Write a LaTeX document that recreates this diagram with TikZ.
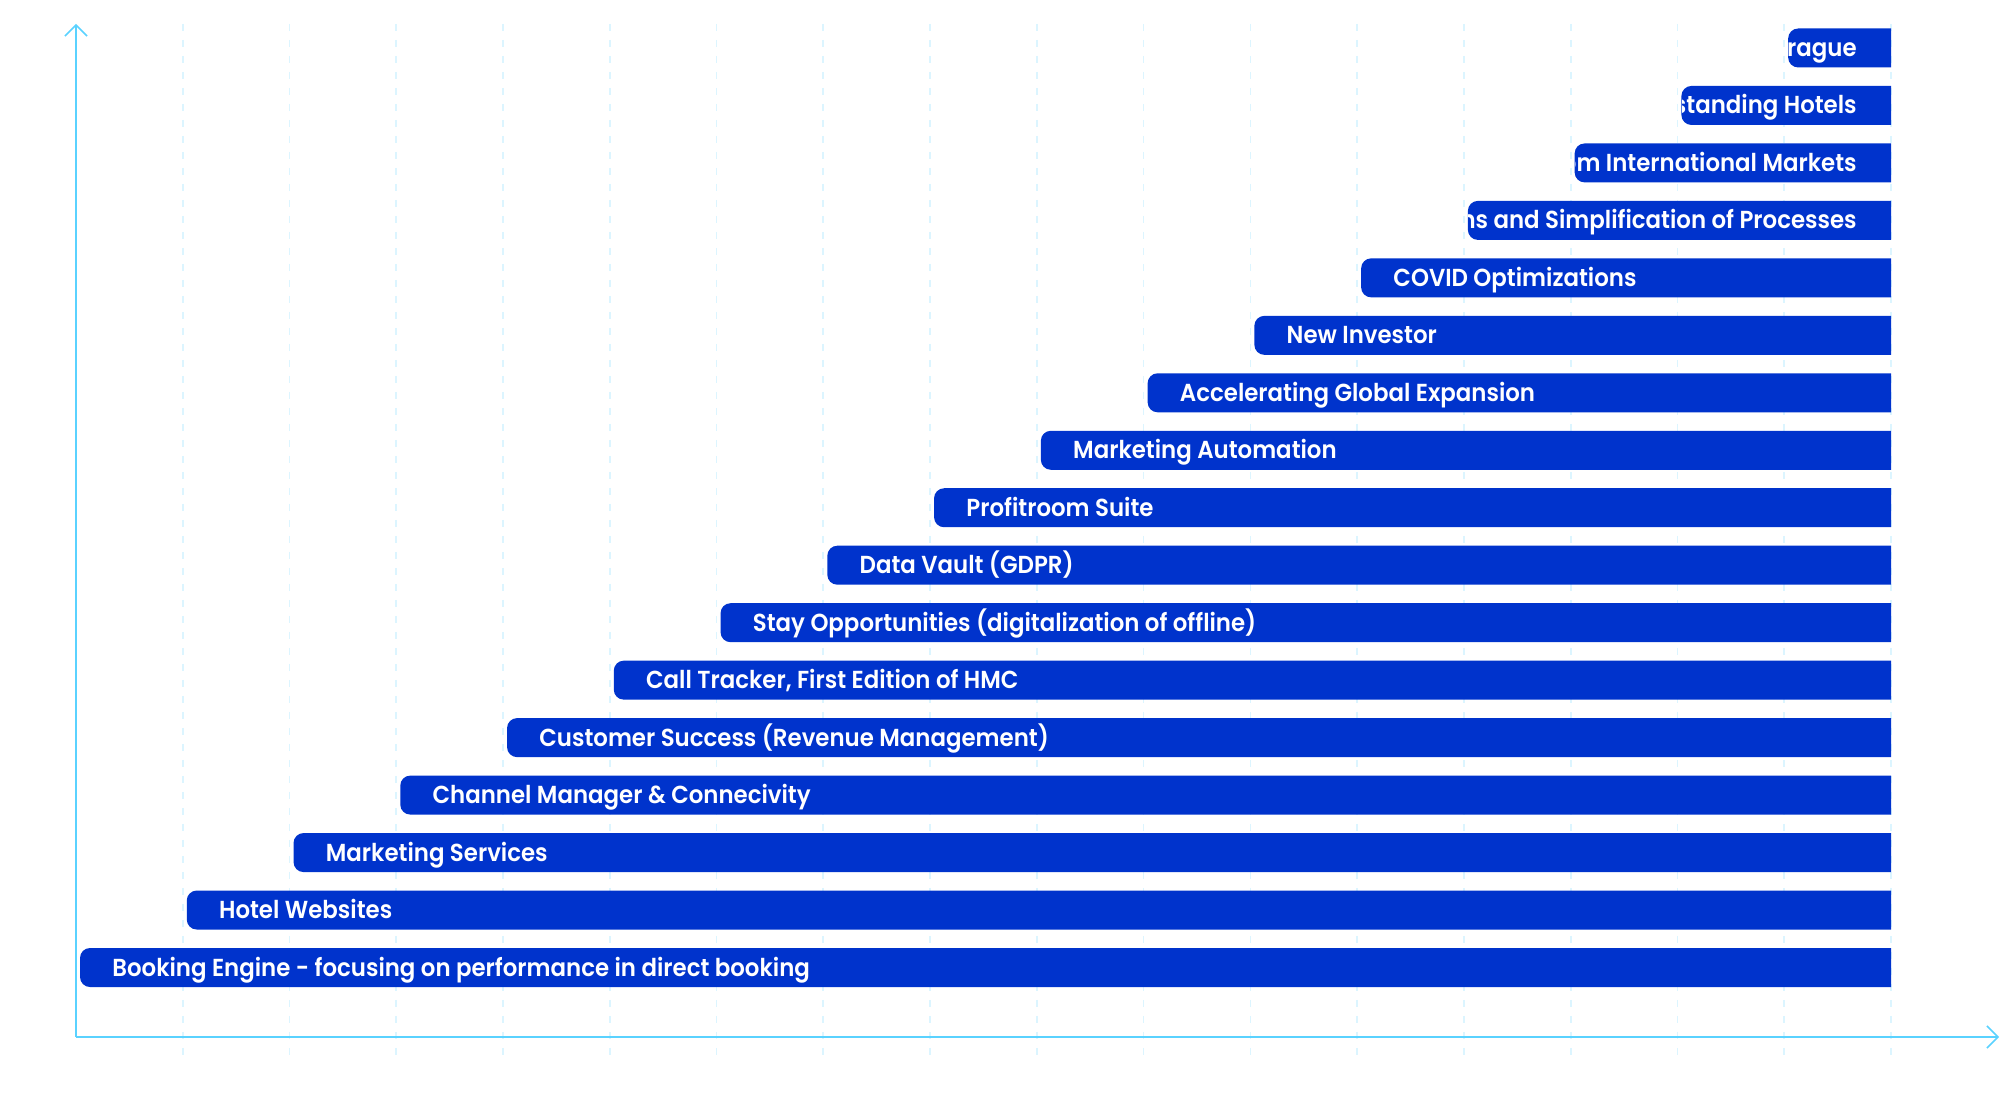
\documentclass[tikz,border=0pt]{standalone}
\usepackage{fontspec}
\usepackage{tikz}
\usetikzlibrary{arrows.meta}
\newfontfamily\barfont{Poppins SemiBold}[FakeStretch=0.93]
\definecolor{cBar}{RGB}{0,51,204}
\definecolor{cAxis}{RGB}{90,210,255}
\definecolor{cGrid}{RGB}{220,245,255}
\tikzset{
	gridline/.style={cGrid, line width=1pt, dash pattern=on 0.14cm off 0.18cm},
	axisline/.style={cAxis, line width=0.9pt, -{Straight Barb[length=0.22cm, width=0.44cm, line width=0.9pt]}},
	barfill/.style={fill=cBar, rounded corners=0.2cm},
	% text sits in the bar, clipped to it
	bartext/.style={text=white, font=\barfont\fontsize{14}{16}\selectfont, inner sep=0pt},
}
\begin{document}
\begin{tikzpicture}[x=0.02cm, y=-0.02cm]
	\useasboundingbox (0,0) rectangle (2000,1115);
	\foreach \k in {1,...,17}
		\draw[gridline] (76+106.76*\k,24) -- (76+106.76*\k,1057);
	\coordinate (origin) at (76,1037);
	\coordinate (ytip) at (76,24);
	\coordinate (xtip) at (1999,1037);
	\draw[axisline] (origin) -- (ytip);
	\draw[axisline] (origin) -- (xtip);
	\foreach \idx/\anc/\txt in {0/west/Booking Engine - focusing on performance in direct booking,
			1/west/Hotel Websites, 2/west/Marketing Services, 3/west/Channel Manager \& Connecivity,
			4/west/Customer Success (Revenue Management), 5/west/{Call Tracker, First Edition of HMC},
			6/west/Stay Opportunities (digitalization of offline), 7/west/Data Vault (GDPR),
			8/west/Profitroom Suite, 9/west/Marketing Automation, 10/west/Accelerating Global Expansion,
			11/west/New Investor, 12/west/COVID Optimizations,
			13/east/Automations and Simplification of Processes, 14/east/from International Markets,
			15/east/Outstanding Hotels, 16/east/Prague} {
		\pgfmathsetmacro\xl{80+106.76*\idx}
		\pgfmathsetmacro\yc{967.5-57.47*\idx}
		\pgfmathsetmacro\xt{ifthenelse(\idx>12,1857,\xl+32)}
		\begin{scope}
			\clip (\xl,\yc-19.5) rectangle (1891,\yc+19.5);
			\fill[barfill] (\xl,\yc-19.5) rectangle (1920,\yc+19.5);
			\clip[rounded corners=0.2cm] (\xl,\yc-19.5) rectangle (1920,\yc+19.5);
			\node[bartext, anchor=base \anc] (t\idx) at (\xt,\yc+8.5) {\txt};
		\end{scope}
	}
\end{tikzpicture}
\end{document}
